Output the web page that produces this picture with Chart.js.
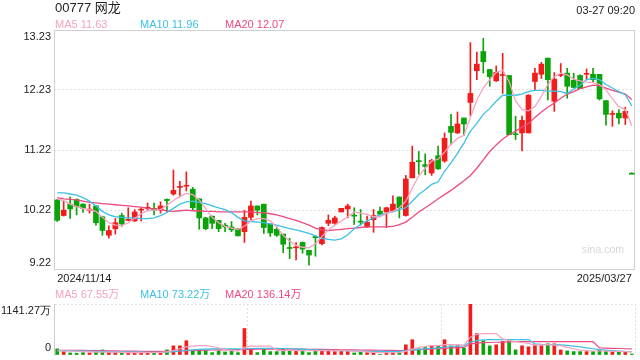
<!DOCTYPE html>
<html>
<head>
<meta charset="utf-8">
<script src="https://cdn.jsdelivr.net/npm/chart.js@4.4.1/dist/chart.umd.min.js"></script>
<style>
  body { margin: 0; background: #fff; }
  #wrap { position: relative; width: 640px; height: 360px; overflow: hidden;
          font-family: 'Liberation Sans', Arial, 'Noto Sans CJK SC', sans-serif; color: #222; }
  #wrap span { position: absolute; white-space: nowrap; font-size: 11px; line-height: 12px; }
  canvas { position: absolute; left: 0; }
</style>
</head>
<body>
<div id="wrap">
  <canvas id="kline" width="640" height="290" style="top:0"></canvas>
  <!-- 量图画布比可见区域高, 上下留足刻度文字需要的边距, 底部被裁掉 -->
  <canvas id="vol" width="640" height="87" style="top:286px"></canvas>

  <span style="left:55px; top:0px; font-size:13px; line-height:15px">00777 网龙</span>
  <span style="right:5px; top:4px">03-27 09:20</span>
  <span id="ma5Txt" style="left:55px; top:18px; color:#f6a2c0"></span>
  <span id="ma10Txt" style="left:140px; top:18px; color:#3ec0e4"></span>
  <span id="ma20Txt" style="left:225px; top:18px; color:#ee4a80"></span>
  <span id="vma5Txt" style="left:55px; top:288px; color:#f6a2c0"></span>
  <span id="vma10Txt" style="left:140px; top:288px; color:#3ec0e4"></span>
  <span id="vma20Txt" style="left:225px; top:288px; color:#ee4a80"></span>
  <span style="left:582px; top:243px; font-size:10.5px; color:#d6d6d6">sina.com</span>
</div>

<script>
// 日K: 2024/11/14 ~ 2025/03/27, 90 根
const firstDay = '2024/11/14';
const lastDay = '2025/03/27';

const opens = [
  10.39, 10.13, 10.32, 10.40, 10.32, 10.22, 10.29, 10.11, 9.80, 9.91,
  10.13, 10.05, 10.04, 10.22, 10.25, 10.25, 10.22, 10.40, 10.49, 10.60,
  10.62, 10.57, 10.41, 10.09, 10.12, 10.05, 9.97, 9.94, 9.91, 9.86,
  10.10, 10.29, 10.32, 9.99, 9.90, 9.82, 9.59, 9.59, 9.68, 9.55,
  9.78, 9.66, 10.00, 10.00, 10.19, 10.24, 10.13, 10.03, 9.94, 10.06,
  10.20, 10.19, 10.21, 10.44, 10.13, 10.76, 11.04, 10.98, 10.84, 11.13,
  11.04, 11.62, 11.51, 11.76, 12.02, 12.55, 12.87, 12.57, 12.38, 12.47,
  12.47, 11.49, 11.51, 11.51, 12.37, 12.49, 12.76, 12.04, 12.47, 12.51,
  12.39, 12.47, 12.49, 12.49, 12.49, 12.05, 11.82, 11.84, 11.76, 10.83
];
const highs = [
  10.40, 10.37, 10.44, 10.41, 10.33, 10.32, 10.30, 10.12, 9.96, 10.08,
  10.17, 10.26, 10.23, 10.26, 10.34, 10.34, 10.36, 10.41, 10.89, 10.70,
  10.86, 10.60, 10.41, 10.10, 10.12, 10.05, 10.00, 10.03, 9.91, 10.22,
  10.37, 10.29, 10.32, 9.99, 9.94, 9.82, 9.75, 9.68, 9.69, 9.55,
  9.79, 9.94, 10.14, 10.12, 10.25, 10.32, 10.26, 10.23, 10.12, 10.23,
  10.27, 10.27, 10.46, 10.44, 10.80, 11.29, 11.20, 11.16, 11.07, 11.29,
  11.51, 11.82, 11.86, 11.76, 13.02, 12.86, 13.09, 12.57, 12.63, 12.84,
  12.47, 11.79, 11.79, 12.15, 12.59, 12.69, 12.76, 12.52, 12.67, 12.59,
  12.51, 12.48, 12.58, 12.59, 12.49, 12.05, 11.88, 11.90, 11.94, 10.83
];
const lows = [
  10.03, 10.12, 10.08, 10.14, 10.18, 10.17, 9.97, 9.80, 9.75, 9.82,
  9.95, 10.04, 10.03, 10.04, 10.22, 10.14, 10.17, 10.19, 10.47, 10.44,
  10.54, 10.22, 9.90, 9.89, 9.91, 9.86, 9.86, 9.86, 9.79, 9.68,
  10.06, 10.14, 9.83, 9.78, 9.78, 9.51, 9.41, 9.39, 9.50, 9.30,
  9.45, 9.64, 9.96, 9.98, 10.19, 10.09, 9.98, 9.97, 9.93, 9.85,
  10.14, 9.93, 10.20, 10.09, 10.12, 10.76, 10.82, 10.81, 10.80, 10.90,
  11.02, 11.32, 11.50, 11.47, 11.80, 12.40, 12.51, 12.29, 12.37, 12.17,
  11.48, 11.40, 11.21, 11.51, 12.23, 12.42, 12.06, 11.87, 12.45, 12.09,
  12.26, 12.25, 12.40, 12.36, 12.06, 11.64, 11.62, 11.66, 11.65, 10.83
];
const closes = [
  10.05, 10.22, 10.24, 10.28, 10.25, 10.22, 10.01, 9.88, 9.88, 10.01,
  9.99, 10.05, 10.19, 10.22, 10.25, 10.22, 10.29, 10.38, 10.55, 10.60,
  10.62, 10.26, 10.09, 9.91, 10.00, 9.91, 9.94, 9.89, 9.79, 10.10,
  10.29, 10.22, 9.93, 9.84, 9.80, 9.65, 9.58, 9.59, 9.57, 9.47,
  9.76, 9.93, 10.05, 10.09, 10.25, 10.29, 10.12, 10.02, 10.02, 10.13,
  10.15, 10.26, 10.32, 10.26, 10.74, 11.02, 11.03, 10.95, 11.05, 10.91,
  11.42, 11.52, 11.66, 11.66, 12.17, 12.66, 12.70, 12.45, 12.52, 12.47,
  11.48, 11.48, 11.72, 12.14, 12.51, 12.66, 12.40, 12.41, 12.48, 12.29,
  12.27, 12.25, 12.49, 12.40, 12.08, 11.82, 11.82, 11.76, 11.87, 10.82
];

const ma5 = [
  10.41, 10.38, 10.32, 10.28, 10.25, 10.23, 10.20, 10.10, 10.01, 9.97,
  9.96, 10.01, 10.08, 10.16, 10.21, 10.22, 10.23, 10.30, 10.38, 10.45,
  10.50, 10.48, 10.39, 10.24, 10.10, 10.01, 9.95, 9.92, 9.90, 9.95,
  10.04, 10.08, 10.08, 10.04, 9.94, 9.80, 9.70, 9.63, 9.60, 9.59,
  9.66, 9.78, 9.89, 9.97, 10.04, 10.11, 10.19, 10.17, 10.15, 10.11,
  10.11, 10.17, 10.20, 10.26, 10.37, 10.59, 10.79, 10.92, 11.04, 11.07,
  11.19, 11.32, 11.42, 11.47, 11.77, 12.06, 12.26, 12.40, 12.52, 12.56,
  12.37, 12.05, 11.90, 11.88, 11.95, 12.12, 12.32, 12.45, 12.51, 12.48,
  12.41, 12.38, 12.36, 12.35, 12.32, 12.23, 12.08, 11.95, 11.90, 11.63
];
const ma10 = [
  10.51, 10.51, 10.49, 10.47, 10.43, 10.37, 10.29, 10.20, 10.14, 10.11,
  10.10, 10.09, 10.09, 10.08, 10.08, 10.09, 10.13, 10.18, 10.25, 10.32,
  10.36, 10.37, 10.35, 10.33, 10.29, 10.26, 10.23, 10.18, 10.10, 10.04,
  10.03, 10.02, 10.01, 9.99, 9.97, 9.94, 9.91, 9.89, 9.86, 9.83,
  9.79, 9.75, 9.73, 9.72, 9.74, 9.81, 9.91, 9.98, 10.04, 10.09,
  10.14, 10.17, 10.19, 10.23, 10.26, 10.37, 10.48, 10.56, 10.65, 10.69,
  10.87, 11.01, 11.17, 11.34, 11.54, 11.67, 11.82, 11.92, 12.04, 12.14,
  12.14, 12.14, 12.16, 12.20, 12.22, 12.22, 12.21, 12.21, 12.20, 12.17,
  12.24, 12.31, 12.40, 12.42, 12.40, 12.32, 12.26, 12.20, 12.15, 11.96
];
const ma20 = [
  10.43, 10.41, 10.40, 10.39, 10.37, 10.35, 10.34, 10.33, 10.32, 10.31,
  10.30, 10.29, 10.28, 10.27, 10.25, 10.24, 10.23, 10.21, 10.20, 10.21,
  10.22, 10.21, 10.21, 10.20, 10.20, 10.19, 10.19, 10.19, 10.19, 10.19,
  10.19, 10.18, 10.18, 10.16, 10.14, 10.11, 10.08, 10.05, 10.01, 9.97,
  9.92, 9.89, 9.88, 9.89, 9.90, 9.91, 9.92, 9.93, 9.94, 9.94,
  9.94, 9.94, 9.95, 9.98, 10.02, 10.10, 10.19, 10.26, 10.33, 10.41,
  10.48, 10.55, 10.63, 10.71, 10.80, 10.92, 11.06, 11.20, 11.31, 11.41,
  11.48, 11.54, 11.61, 11.67, 11.77, 11.86, 11.94, 12.01, 12.09, 12.16,
  12.20, 12.25, 12.28, 12.31, 12.30, 12.26, 12.22, 12.19, 12.16, 12.07
];

// 成交量 (万)
const volumes = [
  137, 76, 46, 38, 53, 46, 68, 114, 53, 53,
  53, 46, 61, 53, 46, 46, 76, 114, 205, 205,
  320, 91, 114, 99, 53, 91, 68, 91, 53, 593,
  137, 53, 137, 76, 76, 137, 99, 99, 91, 53,
  129, 91, 129, 76, 91, 76, 46, 61, 53, 61,
  8, 53, 53, 53, 228, 342, 137, 167, 213, 205,
  342, 205, 205, 152, 1141.27, 479, 320, 205, 228, 304,
  320, 114, 205, 183, 228, 213, 251, 251, 114, 91,
  76, 76, 76, 76, 114, 91, 76, 76, 76, 23
];
const volMa5 = [
  95, 90, 85, 80, 75, 70, 65, 65, 65, 65,
  60, 55, 55, 55, 55, 55, 60, 70, 100, 140,
  180, 200, 210, 210, 190, 160, 120, 95, 85, 170,
  200, 200, 200, 200, 110, 100, 110, 100, 100, 95,
  100, 100, 100, 100, 100, 95, 85, 80, 70, 60,
  55, 50, 50, 50, 80, 130, 170, 190, 210, 210,
  230, 230, 230, 220, 400, 460, 480, 480, 480, 360,
  320, 300, 280, 260, 220, 220, 230, 220, 210, 170,
  140, 110, 100, 90, 90, 85, 80, 78, 75, 67.55
];
const volMa10 = [
  100, 100, 98, 95, 92, 88, 84, 80, 76, 72,
  70, 68, 66, 64, 62, 60, 60, 62, 75, 90,
  105, 115, 125, 130, 135, 135, 135, 135, 135, 140,
  145, 150, 150, 150, 150, 145, 140, 135, 130, 120,
  115, 110, 105, 100, 100, 95, 90, 85, 80, 80,
  80, 80, 80, 80, 95, 110, 125, 140, 150, 160,
  175, 190, 200, 205, 290, 320, 340, 345, 345, 345,
  345, 345, 345, 345, 250, 240, 235, 230, 225, 215,
  200, 180, 160, 140, 120, 110, 100, 90, 80, 73.22
];
const volMa20 = [
  105, 105, 104, 103, 102, 100, 98, 96, 94, 92,
  90, 88, 86, 84, 82, 80, 80, 80, 85, 90,
  95, 100, 105, 110, 112, 114, 116, 118, 120, 125,
  128, 130, 130, 130, 130, 130, 130, 130, 130, 128,
  126, 124, 122, 120, 118, 116, 114, 112, 110, 108,
  106, 104, 102, 100, 105, 112, 120, 128, 136, 142,
  150, 158, 165, 170, 250, 265, 275, 280, 285, 290,
  295, 300, 300, 300, 300, 300, 300, 300, 300, 300,
  300, 300, 300, 300, 160, 155, 150, 145, 140, 136.14
];

const priceTicks = [9.22, 10.22, 11.22, 12.23, 13.23];
const volTicks = [0, 1141.27];
const volTickLabels = ['0', '1141.27万'];

const RED = '#f21c1c';
const GREEN = '#0aa30a';
const C_MA5 = '#f6a2c0';
const C_MA10 = '#3ec0e4';
const C_MA20 = '#ee4a80';
const GRID = '#e0e0e0';
const FRAME = '#cfcfcf';

Chart.defaults.font.family = "'Liberation Sans', Arial, sans-serif";
Chart.defaults.font.size = 11;
Chart.defaults.color = '#222';

const labels = opens.map((_, i) => i === 0 ? firstDay : (i === opens.length - 1 ? lastDay : ''));
const candleColors = closes.map((c, i) => c >= opens[i] ? RED : GREEN);
const bodies = opens.map((o, i) => [o, closes[i]]);
const wicks = lows.map((l, i) => [l, highs[i]]);

// 顶部/底部的刻度文字放在框内 (两行标签, 一行为空)
function edgeLabel(text, i, n) {
  if (i === n - 1) return ['', text];
  if (i === 0) return [text, ''];
  return text;
}

function maLine(data, color, width) {
  return { type: 'line', data, borderColor: color, borderWidth: width, pointRadius: 0, tension: 0, order: 0 };
}

// 主图外框
const frame = {
  id: 'frame',
  beforeDatasetsDraw(chart) {
    const { ctx, chartArea: a } = chart;
    ctx.save();
    ctx.strokeStyle = FRAME;
    ctx.lineWidth = 1;
    ctx.strokeRect(a.left + 0.5, a.top + 0.5, a.width - 1, a.height - 1);
    ctx.restore();
  }
};

new Chart(document.getElementById('kline'), {
  type: 'bar',
  data: {
    labels,
    datasets: [
      maLine(ma5, C_MA5, 1.3),
      maLine(ma10, C_MA10, 1.3),
      maLine(ma20, C_MA20, 1.3),
      { data: bodies, backgroundColor: candleColors, barThickness: 5, minBarLength: 1, grouped: false, order: 1 },
      { data: wicks, backgroundColor: candleColors, barThickness: 1, minBarLength: 1, grouped: false, order: 2 }
    ]
  },
  options: {
    responsive: false,
    animation: false,
    events: [],
    layout: { autoPadding: false, padding: { top: 30, right: 5, bottom: 0, left: 0 } },
    plugins: { legend: { display: false }, tooltip: { enabled: false } },
    scales: {
      x: {
        grid: { display: false, drawTicks: false },
        border: { display: false },
        ticks: { autoSkip: false, maxRotation: 0, align: 'inner', padding: 2, callback: (v, i) => labels[i] },
        afterFit: s => { s.height = 20; }
      },
      y: {
        min: priceTicks[0],
        max: priceTicks[priceTicks.length - 1],
        afterBuildTicks: s => { s.ticks = priceTicks.map(v => ({ value: v })); },
        grid: {
          drawTicks: false,
          color: ctx => (ctx.index > 0 && ctx.index < priceTicks.length - 1) ? GRID : 'transparent'
        },
        border: { display: false, dash: [2, 2] },
        ticks: {
          padding: 3,
          callback: (v, i) => edgeLabel(priceTicks[i].toFixed(2), i, priceTicks.length)
        },
        afterFit: s => { s.width = 54; }
      }
    }
  },
  plugins: [frame]
});

new Chart(document.getElementById('vol'), {
  type: 'bar',
  data: {
    labels,
    datasets: [
      maLine(volMa5, C_MA5, 1.2),
      maLine(volMa10, C_MA10, 1.2),
      maLine(volMa20, C_MA20, 1.2),
      { data: volumes, backgroundColor: candleColors, barThickness: 3, order: 1 }
    ]
  },
  options: {
    responsive: false,
    animation: false,
    events: [],
    layout: { autoPadding: false, padding: { top: 18, right: 5, bottom: 18, left: 0 } },
    plugins: { legend: { display: false }, tooltip: { enabled: false } },
    scales: {
      x: {
        ticks: { display: false },
        border: { display: false, dash: [2, 2] },
        grid: {
          drawTicks: false,
          // 每 30 根一条竖线, 以及右边框
          color: ctx => (ctx.index === undefined || (ctx.index > 0 && ctx.index % 30 === 0)) ? GRID : 'transparent'
        },
        afterFit: s => { s.height = 0; }
      },
      y: {
        min: volTicks[0],
        max: volTicks[1],
        afterBuildTicks: s => { s.ticks = volTicks.map(v => ({ value: v })); },
        grid: { drawTicks: false, color: ctx => ctx.index === 1 ? GRID : 'transparent' },
        border: { color: FRAME, dash: [2, 2] },
        ticks: { padding: 3, callback: (v, i) => edgeLabel(volTickLabels[i], i, volTicks.length) },
        afterFit: s => { s.width = 54; }
      }
    }
  }
});

const last = a => a[a.length - 1].toFixed(2);
document.getElementById('ma5Txt').textContent = 'MA5 ' + last(ma5);
document.getElementById('ma10Txt').textContent = 'MA10 ' + last(ma10);
document.getElementById('ma20Txt').textContent = 'MA20 ' + last(ma20);
document.getElementById('vma5Txt').textContent = 'MA5 ' + last(volMa5) + '万';
document.getElementById('vma10Txt').textContent = 'MA10 ' + last(volMa10) + '万';
document.getElementById('vma20Txt').textContent = 'MA20 ' + last(volMa20) + '万';
</script>
</body>
</html>
